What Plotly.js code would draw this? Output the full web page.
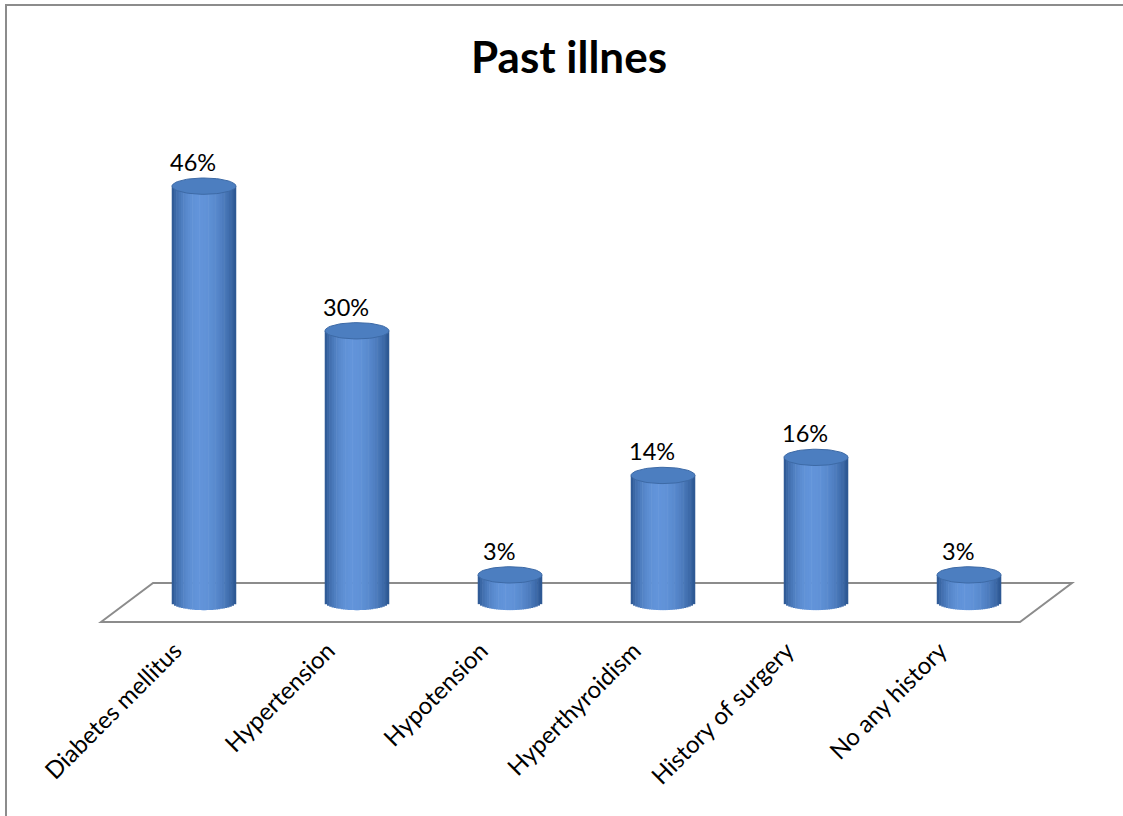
<!DOCTYPE html>
<html>
<head>
<meta charset="utf-8">
<script src="https://cdn.plot.ly/plotly-3.0.1.min.js"></script>
<style>
  html, body { margin: 0; padding: 0; background: #fff; }
  #wrap { position: relative; width: 1123px; height: 816px; }
  #chart { width: 1123px; height: 816px; }
  #frame { position: absolute; left: 5px; top: 4px; width: 1130px; height: 830px;
           border-left: 2px solid #8c8c8c; border-top: 2px solid #8c8c8c; pointer-events: none; }
</style>
</head>
<body>
<div id="wrap">
  <div id="chart"></div>
  <div id="frame"></div>
</div>
<script>
// ---- data ----
const categories = ["Diabetes mellitus", "Hypertension", "Hypotension", "Hyperthyroidism", "History of surgery", "No any history"];
const values = [46, 30, 3, 14, 16, 3];
const valueLabels = ["46%", "30%", "3%", "14%", "16%", "3%"];

// ---- geometry (style) ----
const xs = categories.map((c, i) => i);
const RX = 0.209;          // cylinder half-width in category units
const RY = 0.9;            // ellipse half-height in value units
const N = 28;              // stripes for the shading
const sw = 2 * RX / N;
const XR = [-0.745, 5.758];
const LABEL_SHIFT = 0.19;  // tick labels sit a little left of the bars

function stripeColor(t) {
  const p = -0.15;
  let d = (t - p) / (t < p ? (1 + p) : (1 - p));
  let f = Math.max(0, 1 - d * d);
  f = Math.pow(f, 0.8);
  const dark = [40, 82, 140], light = [98, 148, 218];
  const c = dark.map((v, k) => Math.round(v + (light[k] - v) * f));
  return `rgb(${c[0]},${c[1]},${c[2]})`;
}

const traces = [];
for (let k = 0; k < N; k++) {
  const dx = -RX + (k + 0.5) * sw;
  const t = dx / RX;
  const drop = RY * Math.sqrt(Math.max(0, 1 - t * t));
  traces.push({
    type: "bar",
    x: xs,
    y: values.map(v => v + drop),
    base: values.map(() => -drop),
    width: sw * 1.25,
    offset: dx - sw * 0.625,
    marker: { color: stripeColor(t), line: { width: 0 } },
    hoverinfo: "skip",
    showlegend: false
  });
}

// top caps
values.forEach((v, i) => {
  const ex = [], ey = [];
  for (let a = 0; a <= 64; a++) {
    const th = a / 64 * 2 * Math.PI;
    ex.push(i + RX * Math.cos(th));
    ey.push(v + RY * Math.sin(th));
  }
  traces.push({
    type: "scatter", mode: "lines", x: ex, y: ey, fill: "toself",
    fillcolor: "#4c7ec0", line: { color: "#3d6aa6", width: 1 },
    hoverinfo: "skip", showlegend: false
  });
});

// invisible trace that carries the category label axis
traces.push({
  type: "scatter", mode: "markers", x: xs, y: values, xaxis: "x2", yaxis: "y",
  marker: { opacity: 0, size: 1 }, hoverinfo: "skip", showlegend: false
});

const FONT = "Lato, 'Open Sans', sans-serif";

const annotations = values.map((v, i) => ({
  x: i, y: v, xref: "x", yref: "y", text: valueLabels[i], showarrow: false,
  xshift: -11, yshift: 24, yanchor: "middle",
  font: { family: FONT, size: 23.5, color: "#000" }
}));

const layout = {
  width: 1123, height: 816,
  margin: { l: 90, r: 38, t: 100, b: 191, pad: 0 },
  paper_bgcolor: "#fff", plot_bgcolor: "rgba(0,0,0,0)",
  barmode: "overlay",
  title: {
    text: "<b>Past illnes</b>", xref: "container", yref: "container",
    x: 0.5067, y: 0.929, xanchor: "center", yanchor: "middle",
    font: { family: FONT, size: 44, color: "#000" }
  },
  xaxis: {
    range: XR, showticklabels: false, ticks: "", showgrid: false, zeroline: false,
    showline: false, fixedrange: true
  },
  xaxis2: {
    range: [XR[0] + LABEL_SHIFT, XR[1] + LABEL_SHIFT], overlaying: "x", anchor: "y", side: "bottom",
    tickmode: "array", tickvals: xs, ticktext: categories,
    tickangle: -45, ticks: "", showgrid: false, zeroline: false, showline: false,
    ticklabelstandoff: 6,
    tickfont: { family: FONT, size: 24, color: "#000" },
    fixedrange: true
  },
  yaxis: {
    range: [-2.544, 55.53], showticklabels: false, ticks: "", showgrid: false,
    zeroline: false, showline: false, fixedrange: true
  },
  shapes: [{
    type: "path", xref: "x", yref: "y", layer: "below",
    path: "M -0.673,-2.21 L -0.333,2.1 L 5.673,2.1 L 5.333,-2.21 Z",
    line: { color: "#8c8c8c", width: 2 }, fillcolor: "#fff"
  }],
  annotations: annotations
};

Plotly.newPlot("chart", traces, layout, { displayModeBar: false, staticPlot: true });
</script>
</body>
</html>
